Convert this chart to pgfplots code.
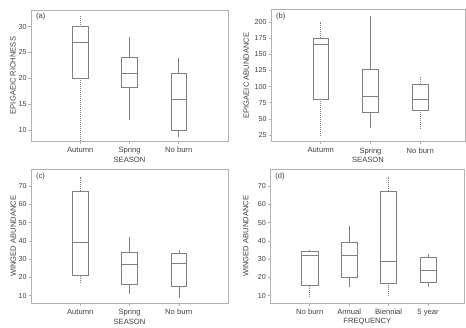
\documentclass[border=0pt]{standalone}
\usepackage{fontspec}
\setmainfont{Liberation Sans}
\usepackage{pgfplots}
\pgfplotsset{compat=1.18}
\usepgfplotslibrary{statistics}

\definecolor{txt}{gray}{0.25}
\definecolor{bxc}{gray}{0.5}
\definecolor{frm}{gray}{0.7}

\newcommand{\lf}{\fontsize{7.6}{9}\selectfont}
\newcommand{\nf}{\fontsize{7.2}{8.5}\selectfont}

\pgfplotsset{
  panel/.style={
    scale only axis,
    axis line style={frm, line width=0.5pt},
    tick style={frm, line width=0.5pt},
    tick align=outside, tick pos=left, major tick length=2.5pt,
    xmin=0, xmax=4, xtick={1,2,3},
    xticklabel style={font=\lf, text=txt},
    yticklabel style={font=\nf, text=txt, inner xsep=1.6pt},
    /pgf/number format/assume math mode=true,
    every axis x label/.style={at={(axis description cs:0.5,0)}, anchor=center, yshift=-18.5pt, font=\lf, text=txt},
    boxplot/draw direction=y,
    boxplot/whisker extend=0,
    clip=false,
  },
  yl/.style={every axis y label/.style={at={(axis description cs:#1,0.5)}, rotate=90, anchor=center, font=\lf, text=txt}},
  bx/.style={draw=bxc, line width=0.5pt, solid, boxplot/box extend=#1},
  bx/.default=0.32,
  dw/.style={boxplot/every whisker/.style={dash pattern=on 1pt off 1pt, line width=0.5pt}},
}

\newcommand{\plab}[1]{\node[anchor=north west, inner sep=1pt, font=\lf, text=txt] at (rel axis cs:0.02,0.985) {#1};}

\begin{document}
\begin{tikzpicture}
\useasboundingbox (0pt,0pt) rectangle (466pt,327pt);

% (a)
\begin{axis}[panel, at={(31pt,186pt)}, anchor=south west, width=197pt, height=131pt,
  ymin=7.9, ymax=33.2, ytick={10,15,20,25,30},
  xticklabels={Autumn,Spring,No burn}, xlabel={SEASON},
  ylabel={EPIGAEIC RICHNESS}, yl=-0.091]
\addplot[bx, dw, boxplot prepared={draw position=1, lower whisker=8, lower quartile=20, median=27, upper quartile=30, upper whisker=32}] coordinates {};
\addplot[bx, boxplot prepared={draw position=2, lower whisker=12, lower quartile=18.2, median=21, upper quartile=24, upper whisker=28}] coordinates {};
\addplot[bx, boxplot prepared={draw position=3, lower whisker=8.7, lower quartile=10, median=16, upper quartile=21, upper whisker=24}] coordinates {};
\plab{(a)}
\end{axis}

% (b)
\begin{axis}[panel, at={(271pt,185.5pt)}, anchor=south west, width=194pt, height=132pt,
  xmax=3.9,
  ymin=14.7, ymax=219.6, ytick={25,50,...,200},
  xticklabels={Autumn,Spring,No burn}, xlabel={SEASON},
  ylabel={EPIGAEIC ABUNDANCE}, yl=-0.127]
\addplot[bx, dw, boxplot prepared={draw position=1, lower whisker=22, lower quartile=80, median=165, upper quartile=175, upper whisker=200}] coordinates {};
\addplot[bx, boxplot prepared={draw position=2, lower whisker=35, lower quartile=60, median=85, upper quartile=127, upper whisker=210}] coordinates {};
\addplot[bx, dw, boxplot prepared={draw position=3, lower whisker=35, lower quartile=63, median=80, upper quartile=104, upper whisker=115}] coordinates {};
\plab{(b)}
\end{axis}

% (c)
\begin{axis}[panel, at={(31pt,24pt)}, anchor=south west, width=197pt, height=133.5pt,
  ymin=6, ymax=79, ytick={10,20,...,70},
  xticklabels={Autumn,Spring,No burn}, xlabel={SEASON},
  ylabel={WINGED ABUNDANCE}, yl=-0.09]
\addplot[bx, dw, boxplot prepared={draw position=1, lower whisker=17, lower quartile=21, median=39, upper quartile=67, upper whisker=75}] coordinates {};
\addplot[bx, boxplot prepared={draw position=2, lower whisker=11, lower quartile=16.5, median=27, upper quartile=33.5, upper whisker=42}] coordinates {};
\addplot[bx, boxplot prepared={draw position=3, lower whisker=9, lower quartile=15, median=28, upper quartile=33, upper whisker=35}] coordinates {};
\plab{(c)}
\end{axis}

% (d)
\begin{axis}[panel, at={(270.3pt,24pt)}, anchor=south west, width=194pt, height=133.5pt,
  xmax=4.92, xtick={1,2,3,4},
  ymin=6, ymax=79, ytick={10,20,...,70},
  xticklabels={No burn,Annual,Biennial,5 year}, xlabel={FREQUENCY},
  ylabel={WINGED ABUNDANCE}, yl=-0.127]
\addplot[bx=0.41, dw, boxplot prepared={draw position=1, lower whisker=10, lower quartile=15.5, median=32, upper quartile=34.5, upper whisker=35}] coordinates {};
\addplot[bx=0.41, boxplot prepared={draw position=2, lower whisker=15, lower quartile=20, median=32, upper quartile=39, upper whisker=48}] coordinates {};
\addplot[bx=0.41, dw, boxplot prepared={draw position=3, lower whisker=10, lower quartile=17, median=29, upper quartile=67, upper whisker=75}] coordinates {};
\addplot[bx=0.41, boxplot prepared={draw position=4, lower whisker=15, lower quartile=17.5, median=24, upper quartile=31, upper whisker=33}] coordinates {};
\plab{(d)}
\end{axis}
\end{tikzpicture}
\end{document}
